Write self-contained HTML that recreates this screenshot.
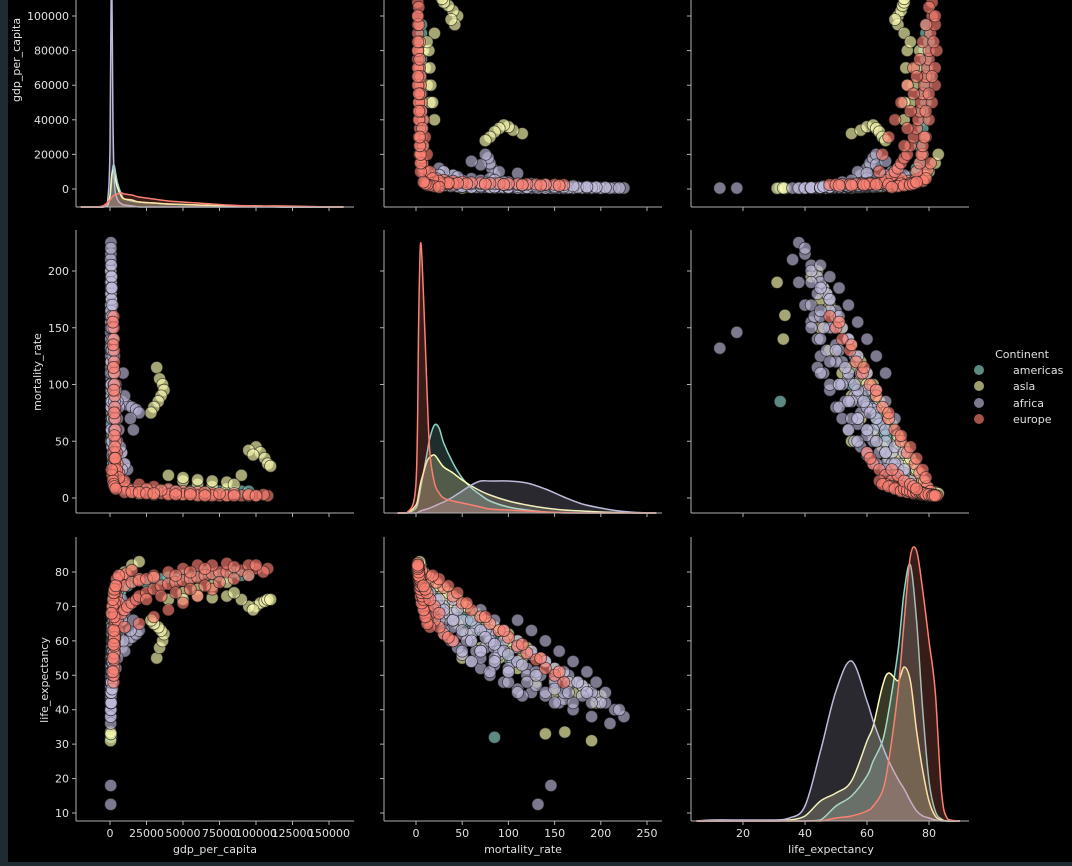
<!DOCTYPE html>
<html><head><meta charset="utf-8"><style>
html,body{margin:0;padding:0;background:#000;}
#wrap{position:relative;width:1072px;height:866px;background:#000;overflow:hidden;}
svg text{font-family:"DejaVu Sans","Liberation Sans",sans-serif;fill:#e0e0e0;}
</style></head><body>
<div id="wrap">
<svg id="chart" width="1072" height="866">
<rect x="0" y="0" width="8" height="866" fill="#1f2b33"/>
<rect x="0" y="862" width="1072" height="4" fill="#1f2b33"/>
<g id="marks"></g><g id="axes"></g>
<g>
<text x="1022" y="358" font-size="11" text-anchor="middle">Continent</text>
<circle cx="979" cy="370" r="5" fill="#8dd3c7" fill-opacity="0.65"/>
<text x="1013" y="374" font-size="11">americas</text>
<circle cx="979" cy="386" r="5" fill="#ffffb3" fill-opacity="0.62"/>
<text x="1013" y="390" font-size="11">asla</text>
<circle cx="979" cy="403" r="5" fill="#bebada" fill-opacity="0.65"/>
<text x="1013" y="407" font-size="11">africa</text>
<circle cx="979" cy="419" r="5" fill="#fb8072" fill-opacity="0.65"/>
<text x="1013" y="423" font-size="11">europe</text>
</g>
</svg></div>
<script>
// records: [gdp_per_capita, mortality_rate, life_expectancy]
const americas = [[1000,100,55],[1200,90,58],[1500,80,61],[1800,70,63],[2200,60,65],[2700,50,67],[3300,40,69],[4000,30,71],[5000,22,73],[6000,17,74],[8000,13,75],[10000,10,76],[15000,7,77],[20000,6,78],[30000,6,78.5],[40000,7,78.5],[50000,7,79],[60000,6,79],[70000,6,79],[80000,6,78.5],[90000,6,79],[95000,6,79],[3000,30,75],[5000,20,77],[10000,12,78],[2500,25,73],[700,85,32],[1500,60,62],[2000,45,66],[65000,5,80],[85000,5,80],[1300,85,60],[2000,65,64],[2500,55,66],[3500,35,70],[4500,25,72],[7000,15,74],[12000,9,76],[25000,7,77],[35000,6,78],[45000,6,78],[55000,6,78.5],[75000,6,79]];
const asia = [[700,200,44],[700,185,46],[800,170,48],[900,155,51],[1000,140,54],[1100,125,57],[1200,110,60],[1400,95,63],[1600,80,65],[2000,65,68],[2500,50,70],[3000,40,72],[4000,30,74],[5000,20,76],[7000,12,78],[10000,8,80],[15000,5,82],[20000,4,83],[600,150,45],[700,130,48],[800,110,52],[900,90,55],[1000,70,58],[1300,55,62],[1600,45,65],[2000,35,67],[32000,115,55],[34000,105,58],[36000,100,60],[37000,95,62],[35000,90,63],[33000,85,64],[30000,80,65],[28000,75,66],[100000,45,70],[103000,40,71],[106000,35,71.5],[108000,30,72],[110000,28,72],[95000,42,70],[98000,38,69],[50000,15,74],[60000,12,75],[70000,10,76],[80000,8,77],[90000,20,72],[400,190,31],[450,161,33.5],[600,50,55],[600,140,33],[800,195,42],[900,175,45],[800,180,47],[900,160,50],[1000,150,52],[1100,135,55],[1200,120,58],[1300,100,62],[1500,85,64],[1800,70,67],[2200,55,70],[2800,45,72],[3500,35,74],[4500,25,76],[6000,15,78],[8000,10,79],[40000,20,72],[50000,18,72],[60000,16,73],[70000,15,72.5],[80000,14,73],[85000,12,74]];
const africa = [[600,225,38],[650,215,40],[700,205,42],[750,195,44],[800,185,46],[900,175,48],[1000,165,50],[1100,150,52],[1200,140,54],[1300,125,56],[1500,110,58],[1700,95,60],[2000,80,62],[2300,65,64],[2600,50,66],[3000,40,68],[3500,30,70],[4000,22,72],[5000,15,74],[500,200,42],[550,190,45],[600,180,47],[650,165,48],[700,150,49],[750,135,50],[800,120,52],[900,105,54],[1000,90,56],[1100,75,58],[1300,60,60],[1500,50,62],[1800,40,64],[2200,30,66],[500,170,40],[550,155,42],[600,140,44],[650,125,45],[700,110,46],[800,95,48],[900,80,50],[1000,70,52],[1100,60,54],[1200,50,56],[1400,45,58],[1600,38,60],[2000,30,62],[500,210,36],[500,190,38],[550,160,43],[600,130,47],[700,100,51],[800,85,53],[1000,65,57],[8000,85,58],[12000,82,60],[15000,80,61],[18000,78,62],[20000,75,63],[10000,90,57],[6000,60,62],[8000,40,66],[10000,30,68],[12000,25,70],[500,132,12.5],[500,146,18],[600,115,44],[700,160,45],[900,120,50],[1200,85,55],[1500,70,57],[2000,55,60],[600,220,40],[700,180,44],[5000,70,55],[4000,100,52],
 [600,150,42],[700,170,42],[800,190,42],[500,110,45],[600,140,45],[700,165,45],[800,185,45],[900,205,45],[700,100,48],[800,120,48],[900,150,48],[1000,175,48],[1100,195,48],[900,80,51],[1000,100,51],[1100,130,51],[1200,160,51],[1300,185,51],[1000,60,54],[1200,85,54],[1400,110,54],[1600,140,54],[1800,170,54],[1500,50,57],[1800,70,57],[2500,95,57],[3000,125,57],[2000,155,57],[2000,40,60],[3000,60,60],[6000,80,60],[9000,110,60],[2500,140,60],[3000,30,63],[5000,50,63],[14000,70,63],[4000,95,63],[2000,125,63],[4000,25,66],[8000,40,66],[16000,60,66],[5000,85,66],[2500,110,66],[5000,20,69],[10000,30,69],[7000,45,69],[3000,70,69],[6000,15,72],[8000,25,72],[4000,40,72],[1500,150,46],[1800,130,50],[2200,115,53],[2600,100,56],[3000,85,59],[3500,75,61]];
const europe = [[2500,160,48],[2600,150,50],[2700,140,52],[2800,130,54.5],[2900,120,56.5],[3000,110,58.5],[3100,100,61],[3200,90,63],[3300,80,65],[3500,70,67],[3700,60,69],[4000,50,71],[4500,40,73],[5000,30,75.5],[6000,22,77],[8000,15,78.5],[11000,10,79.5],[15000,6,80.5],[3000,30,62],[3200,25,64],[3500,20,66],[4000,15,68],[5000,12,70],[6000,10,71],[2800,40,60],[3000,35,61],[5000,12,66],[8000,10,68],[10000,9,69],[12000,8,70],[15000,7,71],[18000,6,72],[20000,6,73],[25000,5,74],[30000,5,75],[35000,4,76],[40000,4,76.5],[45000,4,77],[50000,3,77.5],[55000,3,78],[60000,3,78.5],[65000,3,79],[70000,3,79.5],[75000,2,80],[80000,2,80],[90000,2,80.5],[100000,2,81],[108000,2,81],[10000,15,64],[20000,12,65],[30000,10,67],[40000,8,69],[50000,6,71],[60000,5,73],[70000,4,75],[20000,4,78],[30000,3,79],[40000,3,80],[50000,3,81],[60000,2,82],[70000,2,82],[80000,2,82.5],[95000,2,82],
 [25000,8,72],[35000,7,73],[45000,6,74],[55000,5,75],[65000,5,76],[75000,4,77],[85000,4,78],[95000,3,79],[105000,3,80],[10000,5,76],[15000,5,77],[20000,5,77.5],[25000,4,78],[30000,4,78.5],[45000,3,79],[55000,3,80],[65000,2,81],[85000,2,81.5],[100000,2,82],[2000,155,51],[2200,135,55],[2400,115,59],[2600,95,63],[2800,75,67],[3000,55,71],[3300,45,74],[3600,35,76],[4500,25,78],[6000,18,79],[1500,20,70],[2000,15,72],[2500,12,74],[3000,10,75],[4000,8,76],[1000,25,68]];
const continents = ['americas','asia','africa','europe'];
const colors = ['#8dd3c7','#ffffb3','#bebada','#fb8072'];
// diagonal density grids and heights (px-scaled density)
const gdpGrid = [-20000,-10000,-5000,-2000,0,1000,2000,3000,5000,8000,10000,15000,20000,30000,40000,60000,80000,100000,120000,150000,160000];
const gdpDens = [
 [0,0,0,1,10,25,40,41,25,12,8,6,5,4,3,2,1,1,0,0,0],
 [0,0,0,1,12,30,37,33,20,10,8,7,5,4,3,2,1,1,0,0,0],
 [0,0,0,2,60,260,90,25,8,3,2,1,0,0,0,0,0,0,0,0,0],
 [0,0,1,4,7,9,11,12,13,14,13,12,10,8,6,4,2,1,1,0,0]];
const mortGrid = [-20,-10,0,3,5,8,12,15,20,25,30,40,50,60,70,80,100,120,140,160,180,200,220,240,260];
const mortDens = [
 [0,0,5,15,25,40,60,75,88,85,70,50,35,25,18,12,6,3,1,0,0,0,0,0,0],
 [0,0,8,20,30,40,52,56,58,52,46,40,33,27,22,18,12,8,5,3,2,1,0.5,0,0],
 [0,0,0,1,2,3,4,5,7,9,11,16,22,28,32,32,32,30,24,16,9,5,2,0.5,0],
 [0,0,30,200,270,220,120,60,30,20,15,12,10,8,6,4,3,2,1,0.5,0,0,0,0,0]];
const lifeGrid = [5,10,20,30,35,40,45,50,55,60,62,65,67,70,72,74,76,78,80,82,84,86,90];
const lifeDens = [
 [0,0,0,0,0,0,1,15,25,45,60,80,110,170,230,256,200,110,40,10,2,0,0],
 [0,0,0,0,1,5,20,28,40,80,95,135,148,140,154,140,90,50,20,5,1,0,0],
 [0,1,1,1,3,15,70,130,160,120,100,75,60,42,32,20,10,5,3,1,0,0,0],
 [0,0,0,0,0,0,0,3,5,10,15,30,60,130,200,265,270,230,180,130,30,2,0]];
const gdpTicks = [0,25000,50000,75000,100000,125000,150000];
const gdpYTicks = [0,20000,40000,60000,80000,100000];
const mortTicks = [0,50,100,150,200,250];
const mortYTicks = [0,50,100,150,200];
const lifeTicks = [20,40,60,80];
const lifeYTicks = [10,20,30,40,50,60,70,80];
const varNames = ['gdp_per_capita','mortality_rate','life_expectancy'];

const NS='http://www.w3.org/2000/svg';
const colX = [v=>110+v*219/150000, v=>416+v*231/250, v=>743+(v-20)*186/60];
const rowY = [v=>189-v*173/100000, v=>498-v*227/200, v=>813-(v-10)*241/70];
const colL = [76,384,691], colR = [354,662,969];
const rowT = [-10,230,537], rowB = [207,513,821];
const grids=[gdpGrid,mortGrid,lifeGrid], dens=[gdpDens,mortDens,lifeDens];
const data=[americas,asia,africa,europe];
const marks=document.getElementById('marks'), axes=document.getElementById('axes');
function mk(t,a,p){const e=document.createElementNS(NS,t);for(const k in a)e.setAttribute(k,a[k]);(p||marks).appendChild(e);return e;}
function smooth(pts){ // catmull-rom to bezier
  let d='M'+pts[0][0].toFixed(1)+','+pts[0][1].toFixed(1);
  for(let i=0;i<pts.length-1;i++){
    const p0=pts[Math.max(0,i-1)],p1=pts[i],p2=pts[i+1],p3=pts[Math.min(pts.length-1,i+2)];
    let c1y=p1[1]+(p2[1]-p0[1])/6, c2y=p2[1]-(p3[1]-p1[1])/6;
    const lo=Math.max(p1[1],p2[1]); c1y=Math.min(c1y,lo); c2y=Math.min(c2y,lo);
    d+=' C'+(p1[0]+(p2[0]-p0[0])/6).toFixed(1)+','+c1y.toFixed(1)+' '+(p2[0]-(p3[0]-p1[0])/6).toFixed(1)+','+c2y.toFixed(1)+' '+p2[0].toFixed(1)+','+p2[1].toFixed(1);
  }
  return d;
}

for(let r=0;r<3;r++){for(let c=0;c<3;c++){
  const g=mk('g',{});
  
  
  if(r===c){
    const grid=grids[c], D=dens[c];
    for(let k=0;k<4;k++){
      const pts=grid.map((x,i)=>[colX[c](x),rowB[r]-D[k][i]]);
      const sp=smooth(pts);
      const d=sp+' L'+pts[pts.length-1][0].toFixed(1)+','+rowB[r]+' L'+pts[0][0].toFixed(1)+','+rowB[r]+' Z';
      const f=mk('path',{d:d,fill:colors[k],'fill-opacity':0.22,stroke:'none'},g);
      
      
      const l=mk('path',{d:sp,fill:'none',stroke:colors[k],'stroke-width':1.5},g);
      
      
    }
  } else {
    for(let k=0;k<4;k++){
      data[k].forEach(rec=>{
        const p=mk('circle',{cx:colX[c](rec[c]).toFixed(1),cy:rowY[r](rec[r]).toFixed(1),r:6,fill:colors[k],'fill-opacity':0.65,stroke:'#1a1a1a','stroke-opacity':0.7,'stroke-width':0.8},g);
        
        
      });
    }
  }
}}

// axes
const ticksX=[gdpTicks,mortTicks,lifeTicks], ticksY=[gdpYTicks,mortYTicks,lifeYTicks];
for(let r=0;r<3;r++){for(let c=0;c<3;c++){
  const ls=mk('line',{x1:colL[c],x2:colL[c],y1:rowT[r],y2:rowB[r],stroke:'#b0b0b0','stroke-width':1},axes);
  
  
  const bs=mk('line',{x1:colL[c],x2:colR[c],y1:rowB[r],y2:rowB[r],stroke:'#b0b0b0','stroke-width':1},axes);
  
  
  ticksX[c].forEach(v=>{const x=colX[c](v);
    const t=mk('line',{x1:x,x2:x,y1:rowB[r],y2:rowB[r]+4,stroke:'#b0b0b0'},axes);
    
    
    if(r===2){const tl=mk('text',{x:x,y:rowB[r]+16,'font-size':11,'text-anchor':'middle'},axes);tl.textContent=v;
      
      }
  });
  const yr = (r===c && c===0) ? 0 : r;
  ticksY[yr].forEach(v=>{const y=rowY[yr](v);
    const t=mk('line',{x1:colL[c]-4,x2:colL[c],y1:y,y2:y,stroke:'#b0b0b0'},axes);
    
    
    if(c===0){const tl=mk('text',{x:colL[c]-7,y:y+4,'font-size':11,'text-anchor':'end'},axes);tl.textContent=v;
      
      }
  });
}}
const xlx=[215,523,831];
varNames.forEach((n,i)=>{
  const t=mk('text',{x:xlx[i],y:853,'font-size':11,'text-anchor':'middle'},axes);t.textContent=n;
  
  
});
const ylx=[20,41,48], yly=[60,372,680];
varNames.forEach((n,i)=>{
  const t=mk('text',{x:ylx[i],y:yly[i],'font-size':11,'text-anchor':'middle',transform:'rotate(-90 '+ylx[i]+' '+yly[i]+')'},axes);t.textContent=n;
  
  
});
</script>
</body></html>
